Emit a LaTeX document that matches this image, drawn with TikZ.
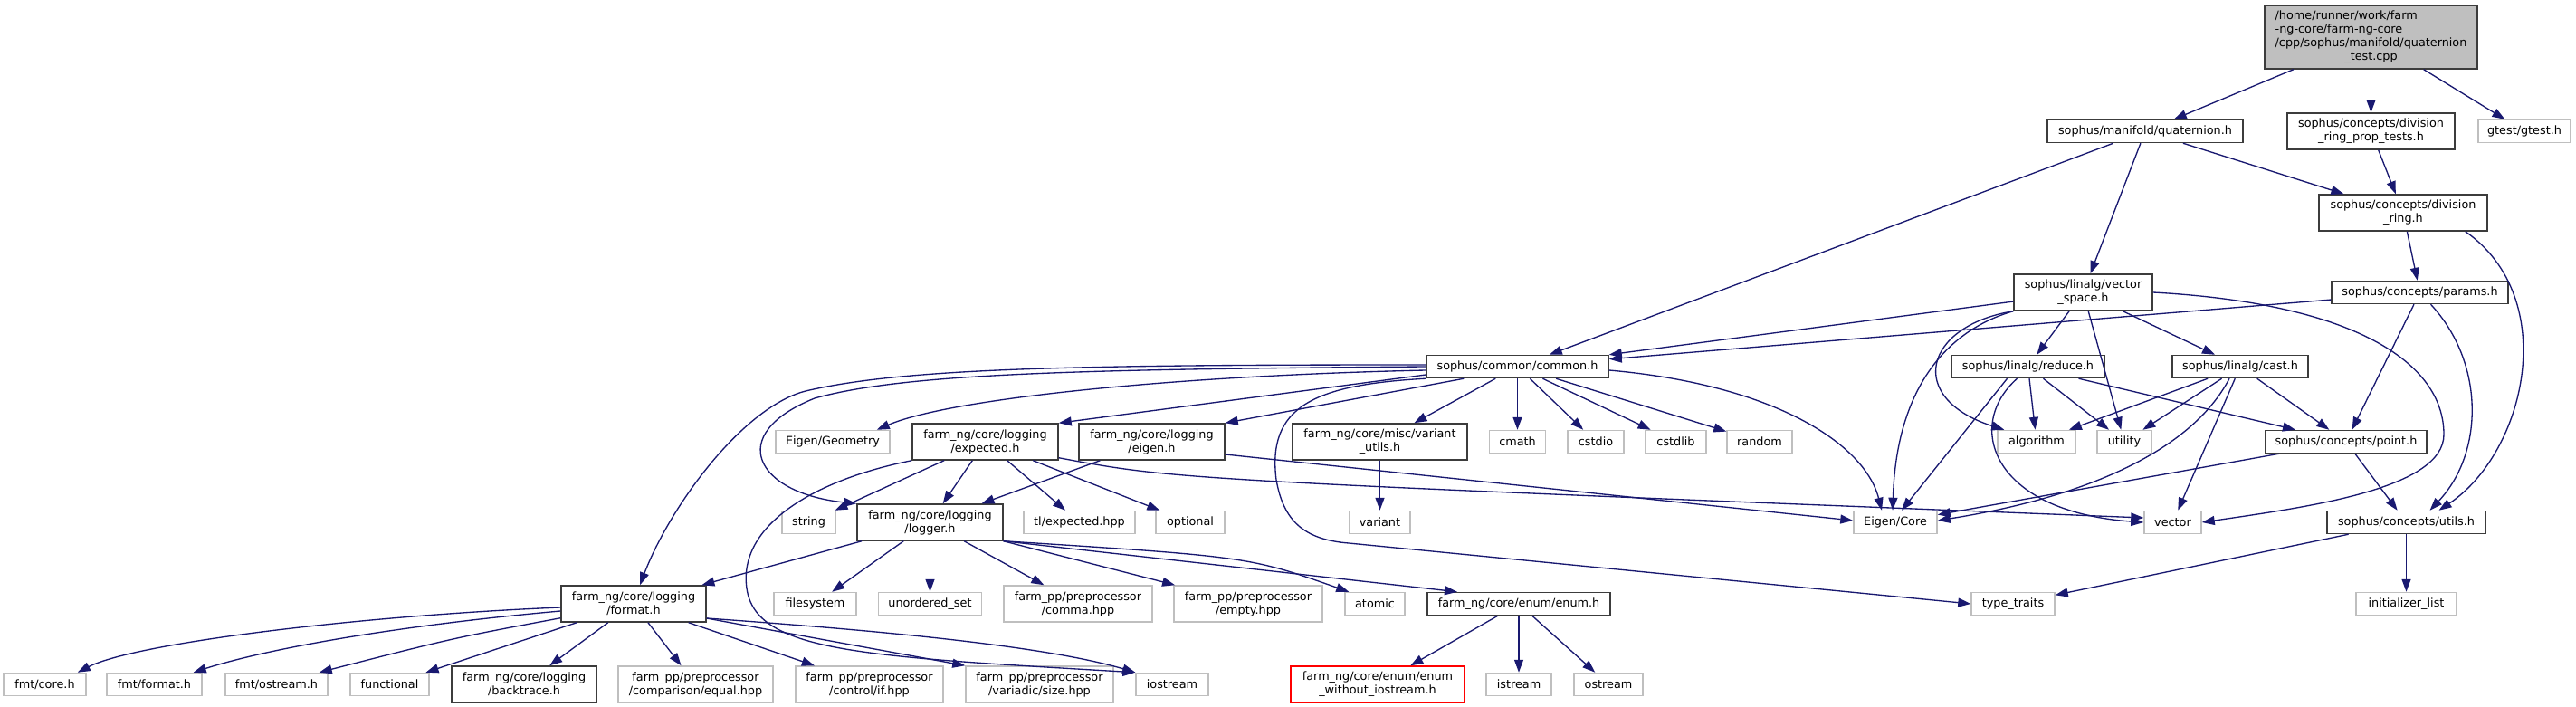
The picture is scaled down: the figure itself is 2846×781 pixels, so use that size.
\documentclass[tikz,border=0pt]{standalone}
\usepackage{fontspec}
\setmainfont{DejaVu Sans}
\usetikzlibrary{arrows.meta,calc}
\definecolor{EdgeBlue} {RGB}{25,25,112}
\definecolor{DocLine}  {RGB}{60,60,60}
\definecolor{ExtLine}  {RGB}{191,191,191}
\definecolor{RootFill} {RGB}{191,191,191}
\definecolor{TruncRed} {RGB}{255,0,0}
\newcommand{\graphfont}{\fontsize{9.6pt}{11.25pt}\selectfont}

\begin{document}
\begin{tikzpicture}[x=0.75pt,y=-0.75pt,
    filebox/.style={draw,line width=1.1pt,fill=white,font=\graphfont,
                    inner sep=2pt,minimum height=18.75pt,align=center},
    hdr/.style={filebox,draw=DocLine},
    ext/.style={filebox,draw=ExtLine},
    trunc/.style={filebox,draw=TruncRed},
    two/.style={minimum height=30pt},
    wd/.style={minimum width=#1*0.75pt},
    incl/.style={EdgeBlue,line width=1pt,-{Triangle[length=10.5pt,width=7.5pt]}}]
  \useasboundingbox (0,0) rectangle (2846,781);
  %% rank 0: the test file
  \node[hdr,fill=RootFill,minimum height=52.5pt,wd=235] (root) at (2619.5,41)
       {\begin{tabular}{@{}l@{}}/home/runner/work/farm\\-ng-core/farm-ng-core\\
        /cpp/sophus/manifold/quaternion\\\multicolumn{1}{@{}c@{}}{\_test.cpp}\end{tabular}};
  %% rank 1
  \node[hdr,wd=216] (quat) at (2370,145) {sophus/manifold/quaternion.h};
  \node[hdr,two,wd=185] (proptest) at (2619.5,145) {sophus/concepts/division\\\_ring\_prop\_tests.h};
  \node[ext,wd=102] (gtest) at (2789,145) {gtest/gtest.h};
  %% rank 2
  \node[hdr,two,wd=186] (divring) at (2655,235) {sophus/concepts/division\\\_ring.h};
  %% rank 3
  \node[hdr,two,wd=153] (vecspace) at (2301.5,323) {sophus/linalg/vector\\\_space.h};
  \node[hdr,wd=195] (params) at (2673.5,323) {sophus/concepts/params.h};
  %% rank 4
  \node[hdr,wd=201] (common) at (1676.5,405) {sophus/common/common.h};
  \node[hdr,wd=169] (reduce) at (2240.5,405) {sophus/linalg/reduce.h};
  \node[hdr,wd=150] (cast) at (2475,405) {sophus/linalg/cast.h};
  %% rank 5
  \node[ext,wd=126] (eigengeom) at (920,488) {Eigen/Geometry};
  \node[hdr,two,wd=161] (expected) at (1088.5,488) {farm\_ng/core/logging\\/expected.h};
  \node[hdr,two,wd=161] (eigenh) at (1272.5,488) {farm\_ng/core/logging\\/eigen.h};
  \node[hdr,two,wd=193] (varutils) at (1524.5,488) {farm\_ng/core/misc/variant\\\_utils.h};
  \node[ext,wd=62] (cmath) at (1676.5,488) {cmath};
  \node[ext,wd=62] (cstdio) at (1763,488) {cstdio};
  \node[ext,wd=67] (cstdlib) at (1851.5,488) {cstdlib};
  \node[ext,wd=72] (random) at (1944,488) {random};
  \node[ext,wd=86] (algorithm) at (2250,488) {algorithm};
  \node[ext,wd=60] (utility) at (2347,488) {utility};
  \node[hdr,wd=178] (point) at (2592,488) {sophus/concepts/point.h};
  %% rank 6
  \node[ext,wd=59] (string) at (893.5,577) {string};
  \node[hdr,two,wd=161] (logger) at (1027.5,577) {farm\_ng/core/logging\\/logger.h};
  \node[ext,wd=123] (tlexp) at (1192.5,577) {tl/expected.hpp};
  \node[ext,wd=76] (optional) at (1315,577) {optional};
  \node[ext,wd=67] (variant) at (1524.5,577) {variant};
  \node[ext,wd=92] (eigencore) at (2094,577) {Eigen/Core};
  \node[ext,wd=63] (vector) at (2400.5,577) {vector};
  \node[hdr,wd=175] (utils) at (2658.5,577) {sophus/concepts/utils.h};
  %% rank 7
  \node[hdr,two,wd=160] (format) at (700,667) {farm\_ng/core/logging\\/format.h};
  \node[ext,wd=91] (filesys) at (900.5,667) {filesystem};
  \node[ext,wd=114] (unordset) at (1027.5,667) {unordered\_set};
  \node[ext,two,wd=164] (comma) at (1191,667) {farm\_pp/preprocessor\\/comma.hpp};
  \node[ext,two,wd=164] (empty) at (1379,667) {farm\_pp/preprocessor\\/empty.hpp};
  \node[ext,wd=66] (atomic) at (1519,667) {atomic};
  \node[hdr,wd=202] (enumh) at (1678,667) {farm\_ng/core/enum/enum.h};
  \node[ext,wd=92] (typetraits) at (2224,667) {type\_traits};
  \node[ext,wd=111] (initlist) at (2658.5,667) {initializer\_list};
  %% rank 8
  \node[ext,wd=91] (fmtcore) at (49.5,756) {fmt/core.h};
  \node[ext,wd=105] (fmtformat) at (170.5,756) {fmt/format.h};
  \node[ext,wd=113] (fmtostream) at (305.5,756) {fmt/ostream.h};
  \node[ext,wd=87] (functional) at (430.5,756) {functional};
  \node[hdr,two,wd=160] (backtrace) at (579,756) {farm\_ng/core/logging\\/backtrace.h};
  \node[ext,two,wd=171] (equal) at (768.5,756) {farm\_pp/preprocessor\\/comparison/equal.hpp};
  \node[ext,two,wd=163] (ifhpp) at (960.5,756) {farm\_pp/preprocessor\\/control/if.hpp};
  \node[ext,two,wd=163] (sizehpp) at (1148.5,756) {farm\_pp/preprocessor\\/variadic/size.hpp};
  \node[ext,wd=80] (iostream) at (1295,756) {iostream};
  \node[trunc,two,wd=192] (enumwo) at (1522,756) {farm\_ng/core/enum/enum\\\_without\_iostream.h};
  \node[ext,wd=72] (istream) at (1678,756) {istream};
  \node[ext,wd=76] (ostream) at (1777,756) {ostream};
  %% includes of the test file
  \draw[incl] (root) -- (quat);
  \draw[incl] (root) -- (proptest);
  \draw[incl] (root) -- (gtest);
  %% quaternion.h and the division ring headers
  \draw[incl] (quat) -- (common);
  \draw[incl] (quat) -- (vecspace);
  \draw[incl] (quat) -- (divring);
  \draw[incl] (proptest) -- (divring);
  \draw[incl] (divring) -- (params);
  \draw[incl] ($(divring.south east)+(-25,0)$) .. controls (2830,330) and (2790,500) .. ($(utils.north)+(36,0)$);
  \draw[incl] (params) -- (common);
  \draw[incl] (params) -- (point);
  \draw[incl] ($(params.south)+(12,0)$) .. controls (2745,400) and (2745,500) .. ($(utils.north)+(26,0)$);
  %% vector_space.h
  \draw[incl] (vecspace) -- (common);
  \draw[incl] (vecspace) -- (reduce);
  \draw[incl] (vecspace) -- (cast);
  \draw[incl] (vecspace) -- (utility);
  \draw[incl] (vecspace.south west) .. controls (2125,360) and (2105,440) .. ($(algorithm.north west)+(8,0)$);
  \draw[incl] (vecspace.south west) .. controls (2150,365) and (2095,430) .. ($(eigencore.north)+(-3,0)$);
  \draw[incl] (vecspace.east) .. controls (2600,335) and (2700,400) .. (2700,480)
       .. controls (2700,540) and (2550,560) .. (vector.east);
  %% reduce.h and cast.h
  \draw[incl] (reduce) -- (algorithm);
  \draw[incl] (reduce) -- (utility);
  \draw[incl] (reduce) -- (point);
  \draw[incl] ($(reduce.south)+(-23,0)$) -- ($(eigencore.north)+(7,0)$);
  \draw[incl] ($(reduce.south)+(-12,0)$) .. controls (2170,470) and (2200,565) .. (vector.west);
  \draw[incl] (cast) -- (algorithm);
  \draw[incl] (cast) -- (utility);
  \draw[incl] (cast) -- (point);
  \draw[incl] (cast) -- (vector);
  \draw[incl] ($(cast.south)+(-12,0)$) .. controls (2420,500) and (2300,550) .. ($(eigencore.east)+(0,-2)$);
  %% point.h and utils.h
  \draw[incl] (point) -- (eigencore);
  \draw[incl] (point) -- (utils);
  \draw[incl] (utils) -- (typetraits);
  \draw[incl] (utils) -- (initlist);
  %% common.h
  \draw[incl] ($(common.west)+(0,-2)$) .. controls (1200,403) and (1000,406) .. (890,432)
       .. controls (820,450) and (740,560) .. ($(format.north)+(7,0)$);
  \draw[incl] (common.west) .. controls (1200,408) and (1000,412) .. (900,440)
       .. controls (800,480) and (835,545) .. (logger.north west);
  \draw[incl] ($(common.west)+(0,4)$) .. controls (1300,415) and (1050,440) .. ($(eigengeom.north east)+(-15,0)$);
  \draw[incl] ($(common.west)+(0,9)$) -- (expected.north east);
  \draw[incl] ($(common.south west)+(42,0)$) -- (eigenh.north east);
  \draw[incl] (common) -- (varutils);
  \draw[incl] (common) -- (cmath);
  \draw[incl] (common) -- (cstdio);
  \draw[incl] (common) -- (cstdlib);
  \draw[incl] (common) -- (random);
  \draw[incl] ($(common.east)+(0,4)$) .. controls (1960,425) and (2060,490) .. ($(eigencore.north)+(-15,0)$);
  \draw[incl] (common.south west) .. controls (1450,425) and (1400,450) .. (1410,530)
       .. controls (1418,575) and (1440,596) .. (1490,600) -- (typetraits.west);
  \draw[incl] (varutils) -- (variant);
  %% expected.h and eigen.h
  \draw[incl] (expected) -- (string);
  \draw[incl] (expected) -- (logger);
  \draw[incl] (expected) -- (tlexp);
  \draw[incl] (expected) -- (optional);
  \draw[incl] ($(expected.south east)+(0,-3)$) .. controls (1300,530) .. ($(vector.west)+(0,-5)$);
  \draw[incl] (expected.south west) .. controls (900,530) and (815,580) .. (825,650)
       .. controls (835,720) and (950,725) .. (iostream.north west);
  \draw[incl] (eigenh) -- (logger);
  \draw[incl] ($(eigenh.east)+(0,14)$) -- ($(eigencore.west)+(0,-2)$);
  %% logger.h
  \draw[incl] (logger) -- (format);
  \draw[incl] (logger) -- (filesys);
  \draw[incl] (logger) -- (unordset);
  \draw[incl] (logger) -- (comma);
  \draw[incl] (logger) -- (empty);
  \draw[incl] (logger.south east) .. controls (1380,615) .. ($(atomic.north west)+(5,0)$);
  \draw[incl] (logger.south east) -- ($(enumh.north)+(-68,0)$);
  %% format.h
  \draw[incl] ($(format.west)+(0,4)$) .. controls (400,680) and (150,710) .. ($(fmtcore.north east)+(-10,0)$);
  \draw[incl] ($(format.west)+(0,8)$) .. controls (450,690) and (300,715) .. ($(fmtformat.north east)+(-10,0)$);
  \draw[incl] ($(format.south west)+(0,-5)$) .. controls (500,705) .. ($(fmtostream.north east)+(-10,0)$);
  \draw[incl] (format) -- (functional);
  \draw[incl] (format) -- (backtrace);
  \draw[incl] (format) -- (equal);
  \draw[incl] (format) -- (ifhpp);
  \draw[incl] ($(format.east)+(0,16)$) -- (sizehpp.north west);
  \draw[incl] ($(format.east)+(0,16)$) .. controls (950,695) and (1150,712) .. (iostream.north west);
  %% enum.h
  \draw[incl] (enumh) -- (enumwo);
  \draw[incl] (enumh) -- (istream);
  \draw[incl] (enumh) -- (ostream);
\end{tikzpicture}
\end{document}
